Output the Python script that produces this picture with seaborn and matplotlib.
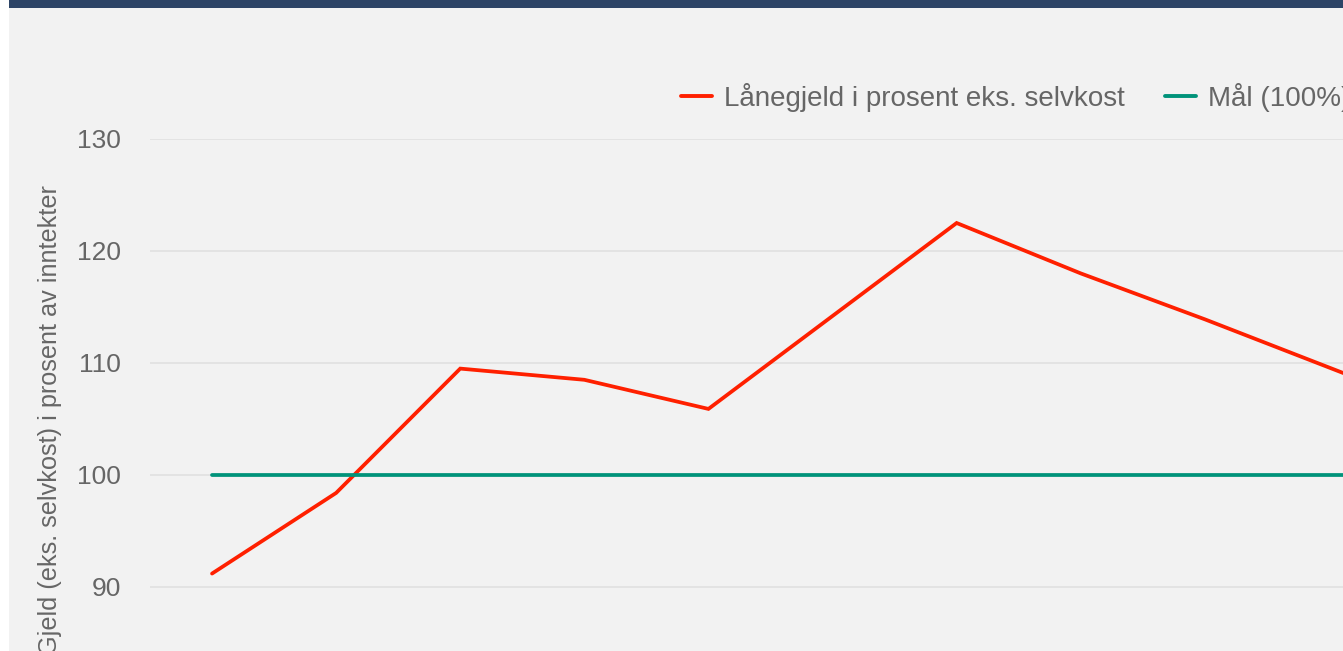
import numpy as np
import pandas as pd
import matplotlib
matplotlib.use("Agg")
import matplotlib.pyplot as plt
from matplotlib.patches import Rectangle
import seaborn as sns

# categories (x tick labels fall outside the crop)
aar = ["2021", "2022", "2023", "2024", "2025", "2026", "2027", "2028", "2029", "2030", "2031"]
# values
lanegjeld = [91.2, 98.4, 109.5, 108.5, 105.9, 114.2, 122.5, 118.0, 113.9, 109.6, 105.3]
maal = [100, 100, 100, 100, 100, 100, 100, 100, 100, 100, 100]
y_ticks = [80, 90, 100, 110, 120, 130]

navn_gjeld = "Lånegjeld i prosent eks. selvkost"
navn_maal = "Mål (100%)"

df = pd.DataFrame({
    "aar": aar * 2,
    "verdi": lanegjeld + maal,
    "serie": [navn_gjeld] * len(aar) + [navn_maal] * len(aar),
})

sns.set_theme(style="white")
plt.rcParams["font.family"] = ["Liberation Sans", "DejaVu Sans"]

W, H = 1343, 651
fig = plt.figure(figsize=(W / 100, H / 100), dpi=100)
fig.patch.set_facecolor("white")
# grey panel and dark top bar
fig.patches.append(Rectangle((9 / W, 0), 1, 1, transform=fig.transFigure,
                             facecolor="#f2f2f2", edgecolor="none", zorder=-2))
fig.patches.append(Rectangle((9 / W, 1 - 8 / H), 1, 8 / H, transform=fig.transFigure,
                             facecolor="#2d4466", edgecolor="none", zorder=-1))

# plot area: 130 at y=139px, 11.2 px per unit, 124 px per category
left_px, top_px = 150, 139
ax_w = 124.1 * len(aar)
ax_h = 11.2 * (y_ticks[-1] - y_ticks[0])
ax = fig.add_axes([left_px / W, 1 - (top_px + ax_h) / H, ax_w / W, ax_h / H])
ax.set_facecolor("none")

farger = {navn_gjeld: "#ff2000", navn_maal: "#00937a"}
sns.lineplot(data=df, x="aar", y="verdi", hue="serie", palette=farger,
             linewidth=2.7, ax=ax, legend=False, sort=False)
for ln in ax.lines:
    ln.set_solid_joinstyle("miter")

ax.set_xlim(-0.5, len(aar) - 0.5)
ax.set_ylim(y_ticks[0], y_ticks[-1])
ax.set_yticks(y_ticks)
ax.set_xticks([])
ax.set_xlabel("")
ax.set_ylabel("")
ax.grid(axis="y", color="#e3e3e3", linewidth=1.4)
ax.set_axisbelow(True)
for s in ax.spines.values():
    s.set_visible(False)
ax.tick_params(axis="y", length=0, pad=21, labelsize=19, labelcolor="#666666")

fig.text(50 / W, 1 - 185 / H, "Gjeld (eks. selvkost) i prosent av inntekter",
         rotation=90, ha="center", va="top", fontsize=18.2, color="#666666")

handles = [plt.Line2D([], [], color=farger[navn_gjeld], linewidth=2.8),
           plt.Line2D([], [], color=farger[navn_maal], linewidth=2.8)]
fig.legend(handles, [navn_gjeld, navn_maal], ncol=2, frameon=False,
           loc="center left", bbox_to_anchor=(681 / W, 1 - 97 / H),
           fontsize=20, labelcolor="#666666", borderpad=0, borderaxespad=0,
           handlelength=1.12, handletextpad=0.42, columnspacing=1.45)

fig.savefig("out.png", dpi=100)
